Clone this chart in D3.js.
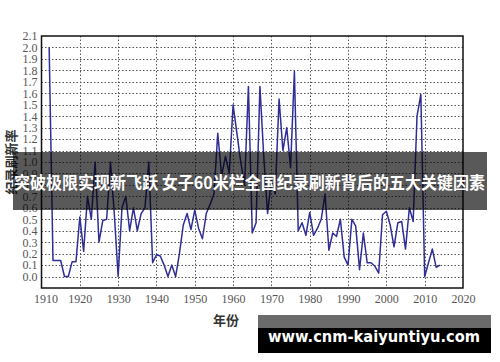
<!DOCTYPE html>
<html>
<head>
<meta charset="utf-8">
<script src="https://cdn.jsdelivr.net/npm/d3@7"></script>
<style>
  body { margin: 0; background: #fff; }
  svg { display: block; }
</style>
</head>
<body>
<svg id="chart" width="500" height="362"></svg>
<script>
// years and record-refresh rate
var years = [
  1912, 1913, 1914, 1915, 1916, 1917, 1918, 1919,
  1920, 1921, 1922, 1923, 1924, 1925, 1926, 1927, 1928, 1929,
  1930, 1931, 1932, 1933, 1934, 1935, 1936, 1937, 1938, 1939,
  1940, 1941, 1942, 1943, 1944, 1945, 1946, 1947, 1948, 1949,
  1950, 1951, 1952, 1953, 1954, 1955, 1956, 1957, 1958, 1959,
  1960, 1961, 1962, 1963, 1964, 1965, 1966, 1967, 1968, 1969,
  1970, 1971, 1972, 1973, 1974, 1975, 1976, 1977, 1978, 1979,
  1980, 1981, 1982, 1983, 1984, 1985, 1986, 1987, 1988, 1989,
  1990, 1991, 1992, 1993, 1994, 1995, 1996, 1997, 1998, 1999,
  2000, 2001, 2002, 2003, 2004, 2005, 2006, 2007, 2008, 2009,
  2010, 2011, 2012, 2013, 2014
];
var rates = [
  2.0, 0.14, 0.14, 0.14, 0.0, 0.0, 0.13, 0.13,
  0.52, 0.22, 0.7, 0.5, 1.0, 0.3, 0.49, 0.5, 1.0, 0.55,
  0.0, 0.6, 0.7, 0.4, 0.6, 0.4, 0.55, 0.6, 1.0, 0.12,
  0.19, 0.18, 0.1, 0.0, 0.1, 0.0, 0.2, 0.45, 0.55, 0.41,
  0.58, 0.42, 0.33, 0.55, 0.63, 0.72, 1.25, 0.88, 1.05, 0.9,
  1.5, 1.25, 1.0, 0.8, 1.66, 0.38, 0.47, 1.66, 1.05, 0.55,
  0.85, 0.72, 1.55, 1.1, 1.3, 0.95, 1.79, 0.4, 0.47, 0.36,
  0.56, 0.36, 0.42, 0.5, 0.72, 0.23, 0.38, 0.35, 0.5, 0.17,
  0.1, 0.5, 0.44, 0.06, 0.38, 0.12, 0.12, 0.09, 0.03, 0.54,
  0.57, 0.45, 0.26, 0.47, 0.48, 0.24, 0.6, 0.48, 1.4, 1.59,
  0.0, 0.12, 0.24, 0.08, 0.1
];
var xTicks = [1910, 1920, 1930, 1940, 1950, 1960, 1970, 1980, 1990, 2000, 2010, 2020];
var yTicks = [0.0, 0.1, 0.2, 0.3, 0.4, 0.5, 0.6, 0.7, 0.8, 0.9, 1.0,
  1.1, 1.2, 1.3, 1.4, 1.5, 1.6, 1.7, 1.8, 1.9, 2.0, 2.1];
var xTitle = "年份";
var yTitle = "纪录刷新率";
var bannerText = "突破极限实现新飞跃 女子60米栏全国纪录刷新背后的五大关键因素";
var siteText = "www.cnm-kaiyuntiyu.com";

var svg = d3.select("#chart");
var plot = {left: 41.5, right: 463, top: 36, bottom: 288};

var xScale = d3.scaleLinear().domain([1910, 2020]).range([plot.left, plot.right]);
var yScale = d3.scaleLinear().domain([-0.1, 2.1]).range([plot.bottom, plot.top]);

// dotted grid
var grid = svg.append("g").attr("class", "grid")
  .attr("stroke", "#555").attr("stroke-width", 1).attr("stroke-dasharray", "1.5,2");
grid.selectAll("line.h")
  .data(yTicks.filter(function(d){ return d < 2.05; }))
  .enter().append("line").attr("class", "h")
  .attr("x1", plot.left).attr("x2", plot.right)
  .attr("y1", function(d){ return Math.round(yScale(d)) + 0.5; })
  .attr("y2", function(d){ return Math.round(yScale(d)) + 0.5; });
grid.selectAll("line.v")
  .data(xTicks.filter(function(d){ return d > 1910 && d < 2020; }))
  .enter().append("line").attr("class", "v")
  .attr("y1", plot.top).attr("y2", plot.bottom)
  .attr("x1", function(d){ return Math.round(xScale(d)) + 0.5; })
  .attr("x2", function(d){ return Math.round(xScale(d)) + 0.5; });

// axes (labels only)
var xAxis = d3.axisBottom(xScale).tickValues(xTicks).tickFormat(d3.format("d"))
  .tickSize(0).tickPadding(6);
var gx = svg.append("g").attr("transform", "translate(0," + plot.bottom + ")").call(xAxis);
gx.select(".domain").remove();
gx.selectAll("text").attr("font-family", "'Liberation Serif', 'DejaVu Serif', serif")
  .attr("font-size", 12).attr("fill", "#555");
gx.selectAll("text").filter(function(d){ return d === 1910; }).attr("dx", 4);

var yAxis = d3.axisLeft(yScale).tickValues(yTicks).tickFormat(d3.format(".1f"))
  .tickSize(0).tickPadding(4);
var gy = svg.append("g").attr("transform", "translate(" + plot.left + ",0)").call(yAxis);
gy.select(".domain").remove();
gy.selectAll("text").attr("font-family", "'Liberation Serif', 'DejaVu Serif', serif")
  .attr("font-size", 12).attr("fill", "#555");

// the series
var line = d3.line()
  .x(function(d){ return xScale(d[0]); })
  .y(function(d){ return yScale(d[1]); });
svg.append("path")
  .datum(years.map(function(y, i){ return [y, rates[i]]; }))
  .attr("d", line)
  .attr("fill", "none")
  .attr("stroke", "#2e2e96")
  .attr("stroke-width", 1.5)
  .attr("stroke-linejoin", "round");

// frame
svg.append("rect")
  .attr("x", plot.left).attr("y", plot.top)
  .attr("width", plot.right - plot.left).attr("height", plot.bottom - plot.top)
  .attr("fill", "none").attr("stroke", "#111").attr("stroke-width", 1.5);

// axis titles
svg.append("text")
  .attr("x", 226).attr("y", 319)
  .attr("text-anchor", "middle").attr("dominant-baseline", "central")
  .attr("font-family", "'Noto Sans CJK SC', sans-serif").attr("font-weight", "bold")
  .attr("font-size", 13).attr("fill", "#333")
  .text(xTitle);
svg.append("text")
  .attr("transform", "translate(10,162) rotate(-90)")
  .attr("text-anchor", "middle").attr("dominant-baseline", "central")
  .attr("font-family", "'Noto Sans CJK SC', sans-serif").attr("font-weight", "bold")
  .attr("font-size", 13).attr("fill", "#333")
  .text(yTitle);

// banner over the chart
svg.append("rect")
  .attr("x", 13).attr("y", 152).attr("width", 474).attr("height", 58)
  .attr("fill", "#000").attr("fill-opacity", 0.65);
svg.append("text")
  .attr("x", 14).attr("y", 182)
  .attr("dominant-baseline", "central")
  .attr("font-family", "'Noto Sans CJK SC', sans-serif").attr("font-weight", "bold")
  .attr("font-size", 16.5).attr("fill", "#fff")
  .attr("textLength", 471).attr("lengthAdjust", "spacingAndGlyphs")
  .text(bannerText);

// site mark
svg.append("rect")
  .attr("x", 258).attr("y", 315).attr("width", 233).attr("height", 13)
  .attr("fill", "#6b6b6b");
svg.append("rect")
  .attr("x", 258).attr("y", 328).attr("width", 233).attr("height", 25)
  .attr("fill", "#000");
svg.append("text")
  .attr("x", 268).attr("y", 337)
  .attr("dominant-baseline", "central")
  .attr("font-family", "'DejaVu Sans', sans-serif").attr("font-weight", "bold")
  .attr("font-size", 15).attr("fill", "#fff")
  .attr("textLength", 212).attr("lengthAdjust", "spacingAndGlyphs")
  .text(siteText);
</script>
</body>
</html>
